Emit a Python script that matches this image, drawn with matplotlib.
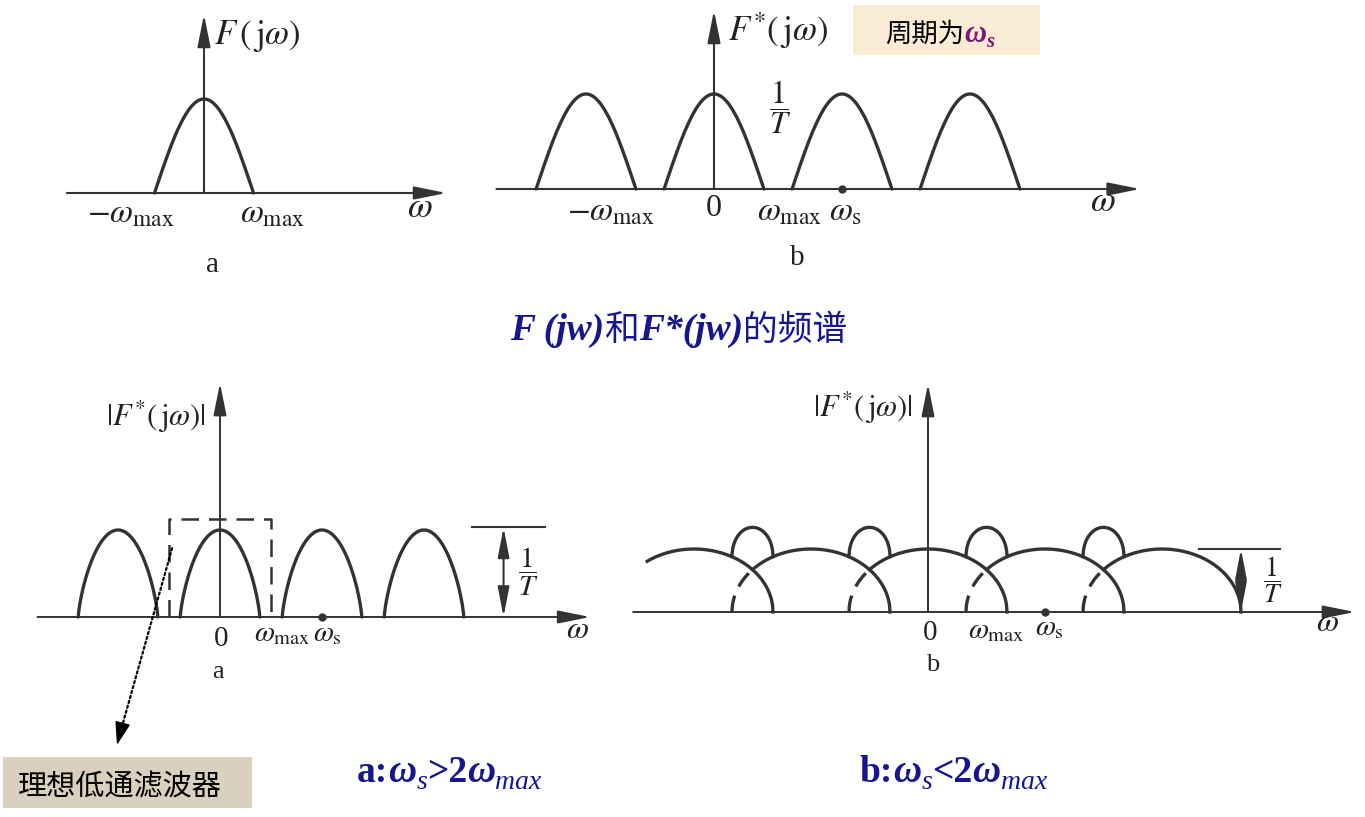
import numpy as np
import matplotlib
matplotlib.use('Agg')
import matplotlib.pyplot as plt
from matplotlib.patches import Rectangle

W, H = 1365, 817
plt.rcParams['mathtext.fontset'] = 'stix'
plt.rcParams['font.family'] = ['Liberation Serif', 'DejaVu Serif']

INK = '#333333'
NAVY = '#16168e'
PURPLE = '#7b1779'

# ---- spectrum data (x in units of omega_s, y in units of 1/T) ----
# top a: spectrum of the continuous signal
a_centers = [0]
a_halfwidth = 0.39
a_height = 1.0
# top b: sampled spectrum, period omega_s
b_centers = [-1, 0, 1, 2]
b_halfwidth = 0.39
b_height = 1.0
# bottom a: ws > 2 wmax, with ideal low-pass filter
c_centers = [-1, 0, 1, 2]
c_halfwidth = 0.39
c_height = 1.0
c_filter = (-0.5, 0.5, 1.13)      # left, right, gain
c_level = 1.03
# bottom b: ws < 2 wmax, overlapping lobes
d_centers = [-2, -1, 0, 1, 2]
d_halfwidth = 0.675
d_height = 1.0
d_start = -2.4
d_level = 1.0

fig = plt.figure(figsize=(W / 100, H / 100), dpi=100)
fig.patch.set_facecolor('white')

# overlay in pixel coordinates for free text and boxes
ov = fig.add_axes([0, 0, 1, 1])
ov.set_xlim(0, W)
ov.set_ylim(H, 0)
ov.axis('off')


def panel(x0, y0, xu, yu, xlo, xhi, ylo, yhi):
    # x0,y0: pixel position of origin, xu/yu: pixels per unit
    left = (x0 + xlo * xu) / W
    right = (x0 + xhi * xu) / W
    bottom = 1 - (y0 - ylo * yu) / H
    top = 1 - (y0 - yhi * yu) / H
    ax = fig.add_axes([left, bottom, right - left, top - bottom])
    ax.set_xlim(xlo, xhi)
    ax.set_ylim(ylo, yhi)
    ax.axis('off')
    return ax


def shape(u, kind):
    u = np.clip(u, -1, 1)
    if kind == 'cos':
        return np.cos(np.pi / 2 * u)
    if kind == 'round':
        return (1 - u ** 2) ** 0.75
    return np.sqrt(1 - u ** 2)


def lobe(ax, c, hw, h, kind, **kw):
    u = np.linspace(-1, 1, 300)
    ax.plot(c + hw * u, h * shape(u, kind), color=INK, lw=2.4,
            solid_capstyle='round', clip_on=False, **kw)


def axes_arrows(ax, xl, xr, ytop, lw=1.5):
    ax.annotate('', xy=(xr, 0), xytext=(xl, 0), annotation_clip=False,
                arrowprops=dict(arrowstyle='-|>,head_length=1.1,head_width=0.22',
                                color=INK, lw=lw, shrinkA=0, shrinkB=0,
                                mutation_scale=18))
    ax.annotate('', xy=(0, ytop), xytext=(0, 0), annotation_clip=False,
                arrowprops=dict(arrowstyle='-|>,head_length=1.1,head_width=0.22',
                                color=INK, lw=lw, shrinkA=0, shrinkB=0,
                                mutation_scale=18))


def level_marker(ax, x0, x1, xa, y):
    ax.plot([x0, x1], [y, y], color=INK, lw=1.5, clip_on=False)
    ax.annotate('', xy=(xa, y), xytext=(xa, 0), annotation_clip=False,
                arrowprops=dict(arrowstyle='<|-|>,head_length=1.3,head_width=0.25',
                                color=INK, lw=1.5, shrinkA=0, shrinkB=0,
                                mutation_scale=14))


def label(ax, x, y, s, size, **kw):
    ax.text(x, y, s, fontsize=size, color='#222222', ha='center', va='center', **kw)


# ---- top a ----
axA = panel(204, 193, 127, 94, -1.5, 2.2, -1.0, 2.0)
axes_arrows(axA, -1.08, 1.91, 1.90)
for c in a_centers:
    lobe(axA, c, a_halfwidth, a_height, 'cos')
label(axA, -0.58, -0.23, r'$-\omega_{\mathrm{max}}$', 24)
label(axA, 0.535, -0.23, r'$\omega_{\mathrm{max}}$', 24)
label(axA, 1.70, -0.17, r'$\omega$', 26)
axA.text(0.08, 1.67, r'$F\,(\,\mathrm{j}\omega)$', fontsize=25, color='#222222',
         ha='left', va='center')
label(axA, 0.07, -0.77, 'a', 21)

# ---- top b ----
axB = panel(714, 189, 128, 95, -1.8, 3.5, -0.9, 1.95)
axes_arrows(axB, -1.70, 3.33, 1.88)
for c in b_centers:
    lobe(axB, c, b_halfwidth, b_height, 'cos')
axB.plot([1], [0], 'o', color=INK, ms=5, clip_on=False)
label(axB, -0.81, -0.24, r'$-\omega_{\mathrm{max}}$', 24)
label(axB, 0.0, -0.21, '0', 23)
label(axB, 0.59, -0.24, r'$\omega_{\mathrm{max}}$', 24)
label(axB, 1.03, -0.24, r'$\omega_{\mathrm{s}}$', 24)
label(axB, 3.04, -0.14, r'$\omega$', 26)
axB.text(0.11, 1.67, r'$F^{*}(\,\mathrm{j}\omega)$', fontsize=25, color='#222222',
         ha='left', va='center')
label(axB, 0.52, 0.86, r'$\dfrac{1}{T}$', 23)
label(axB, 0.65, -0.73, 'b', 21)

# ---- bottom a ----
axC = panel(220, 617, 102, 87, -2.1, 3.8, -0.8, 2.9)
axes_arrows(axC, -1.79, 3.63, 2.69, lw=1.4)
for c in c_centers:
    lobe(axC, c, c_halfwidth, c_height, 'round')
fl, fr, fg = c_filter
axC.plot([fl, fl, fr, fr], [0, fg, fg, 0], color=INK, lw=1.8,
         linestyle=(0, (7, 4)), clip_on=False)
axC.plot([1], [0], 'o', color=INK, ms=5, clip_on=False)
level_marker(axC, 2.47, 3.19, 2.78, c_level)
label(axC, 3.02, 0.52, r'$\dfrac{1}{T}$', 21)
label(axC, -0.63, 2.30, r'$|F^{*}(\,\mathrm{j}\omega)|$', 22)
label(axC, 0.01, -0.25, '0', 21)
label(axC, 0.61, -0.20, r'$\omega_{\mathrm{max}}$', 21)
label(axC, 1.05, -0.20, r'$\omega_{\mathrm{s}}$', 21)
label(axC, 3.50, -0.15, r'$\omega$', 23)
label(axC, -0.02, -0.63, 'a', 19)
# pointer to the filter box: dotted shaft + solid head
axC.annotate('', xy=(-0.99, -1.38), xytext=(-0.47, 0.79), annotation_clip=False,
             arrowprops=dict(arrowstyle='-', color='black', lw=1.6,
                             linestyle=(0, (1, 1.3)), shrinkA=0, shrinkB=0))
axC.annotate('', xy=(-1.01, -1.47), xytext=(-0.99, -1.38), annotation_clip=False,
             arrowprops=dict(arrowstyle='-|>,head_length=1.2,head_width=0.4',
                             color='black', lw=1.0, shrinkA=0, shrinkB=0,
                             mutation_scale=12))

# ---- bottom b ----
axD = panel(928, 612, 117, 63, -2.7, 3.7, -1.0, 3.8)
axes_arrows(axD, -2.52, 3.65, 3.62, lw=1.4)
hw = d_halfwidth
xs = np.linspace(d_start, d_centers[-1] + hw, 2000)
total = np.zeros_like(xs)
for c in d_centers:
    u = (xs - c) / hw
    total += np.where(np.abs(u) <= 1, d_height * shape(u, 'ellipse'), 0)
axD.plot(xs, total, color=INK, lw=2.4, clip_on=False)
for c in d_centers[:-1]:
    lo, hi, mid = c + 1 - hw, c + hw, c + 0.5
    x1 = np.linspace(lo, hi, 100)
    axD.plot(x1, d_height * shape((x1 - c) / hw, 'ellipse'), color=INK, lw=2.4, clip_on=False)
    x2 = np.linspace(lo, mid, 100)
    axD.plot(x2, d_height * shape((x2 - c - 1) / hw, 'ellipse'), color=INK, lw=2.4,
             linestyle=(0, (5, 3)), clip_on=False)
    x3 = np.linspace(mid, hi, 100)
    axD.plot(x3, d_height * shape((x3 - c - 1) / hw, 'ellipse'), color=INK, lw=2.4, clip_on=False)
axD.plot([1], [0], 'o', color=INK, ms=5, clip_on=False)
level_marker(axD, 2.32, 3.01, d_centers[-1] + hw, d_level)
label(axD, 2.95, 0.52, r'$\dfrac{1}{T}$', 20)
label(axD, -0.56, 3.24, r'$|F^{*}(\,\mathrm{j}\omega)|$', 22)
label(axD, 0.02, -0.34, '0', 21)
label(axD, 0.58, -0.30, r'$\omega_{\mathrm{max}}$', 21)
label(axD, 1.04, -0.26, r'$\omega_{\mathrm{s}}$', 21)
label(axD, 3.41, -0.18, r'$\omega$', 23)
label(axD, 0.04, -0.84, 'b', 19)


# ---- free text ----
renderer = fig.canvas.get_renderer()


def chain(x, y, pieces):
    for s, kw in pieces:
        kw = dict(kw)
        dy = kw.pop('dy', 0)
        t = ov.text(x, y + dy, s, ha='left', va='baseline', **kw)
        bb = t.get_window_extent(renderer=renderer)
        x = ov.transData.inverted().transform((bb.x1, bb.y0))[0]


BI = dict(family='Liberation Serif', weight='bold', style='italic', color=NAVY)
BD = dict(family='Liberation Serif', weight='bold', color=NAVY)
IT = dict(family='Liberation Serif', style='italic', color=NAVY)
CJK = dict(family=['Noto Sans CJK SC', 'DejaVu Sans'])

chain(510, 340, [('F (jw)', dict(BI, size=27)),
                 ('和', dict(CJK, size=25, color=NAVY)),
                 ('F*(jw)', dict(BI, size=27)),
                 ('的频谱', dict(CJK, size=25, color=NAVY))])

chain(357, 782, [('a:', dict(BD, size=27)), ('ω', dict(BI, size=28)),
                 ('s', dict(IT, size=20, dy=7)), ('>2', dict(BD, size=27)),
                 ('ω', dict(BI, size=28)), ('max', dict(IT, size=20, dy=7))])
chain(860, 782, [('b:', dict(BD, size=27)), ('ω', dict(BI, size=28)),
                 ('s', dict(IT, size=20, dy=7)), ('<2', dict(BD, size=27)),
                 ('ω', dict(BI, size=28)), ('max', dict(IT, size=20, dy=7))])

ov.add_patch(Rectangle((853, 5), 187, 50, facecolor='#faebd4', edgecolor='none'))
chain(885, 42, [('周期为', dict(CJK, size=19, color='black')),
                ('ω', dict(family='Liberation Serif', weight='bold', style='italic',
                           size=22, color=PURPLE)),
                ('s', dict(family='Liberation Serif', weight='bold', style='italic',
                           size=15, color=PURPLE, dy=5))])

ov.add_patch(Rectangle((3, 757), 249, 51, facecolor='#d9d0bd', edgecolor='none'))
chain(18, 795, [('理想低通滤波器', dict(CJK, size=21, color='black'))])

fig.savefig('out.png', dpi=100)
